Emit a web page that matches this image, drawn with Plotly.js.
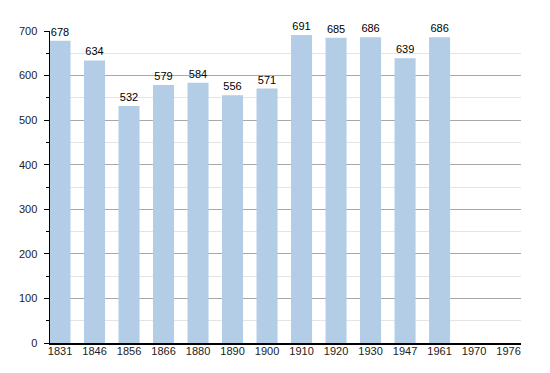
<!DOCTYPE html>
<html>
<head>
<meta charset="utf-8">
<script src="https://cdn.plot.ly/plotly-3.0.1.min.js"></script>
<style>html,body{margin:0;padding:0;background:#fff;}#chart{width:550px;height:373px;}</style>
</head>
<body>
<div id="chart"></div>
<script>
const years = ["1831","1846","1856","1866","1880","1890","1900","1910","1920","1930","1947","1961","1970","1976"];
const population = [678, 634, 532, 579, 584, 556, 571, 691, 685, 686, 639, 686, null, null];
const yTicks = [0, 100, 200, 300, 400, 500, 600, 700];

const labels = population.map(v => v == null ? "" : String(v));

Plotly.newPlot("chart", [{
  type: "bar",
  x: years,
  y: population,
  width: 0.61,
  marker: {color: "#b3cde6", line: {width: 0}},
  text: labels,
  textposition: "outside",
  textfont: {family: "Liberation Sans, Arial, sans-serif", size: 11, color: "#000"},
  cliponaxis: false,
  hoverinfo: "x+y"
}], {
  width: 550, height: 373,
  margin: {l: 50, r: 29, t: 31, b: 30},
  paper_bgcolor: "#fff", plot_bgcolor: "#fff",
  showlegend: false,
  font: {family: "Liberation Sans, Arial, sans-serif", size: 11, color: "#222"},
  xaxis: {
    type: "category",
    categoryorder: "array", categoryarray: years,
    range: [-0.29, 13.36],
    showline: true, linecolor: "#000", linewidth: 1.5,
    ticks: "", showgrid: false, zeroline: false,
    ticklabelstandoff: -3,
    tickfont: {size: 11}
  },
  yaxis: {
    range: [0, 700],
    tickmode: "array", tickvals: yTicks, ticktext: yTicks.map(String),
    showline: true, linecolor: "#000", linewidth: 1.5,
    ticks: "outside", ticklen: 5, tickcolor: "#000", tickwidth: 1,
    showgrid: true, gridcolor: "#a8a8a8", gridwidth: 1,
    zeroline: false,
    ticklabelstandoff: 4,
    minor: {dtick: 50, tick0: 0, showgrid: true, gridcolor: "#e4e4e4", gridwidth: 1, ticks: "outside", ticklen: 3, tickcolor: "#000"},
    tickfont: {size: 11}
  },
  bargap: 0.39
}, {displayModeBar: false, staticPlot: true});
</script>
</body>
</html>
